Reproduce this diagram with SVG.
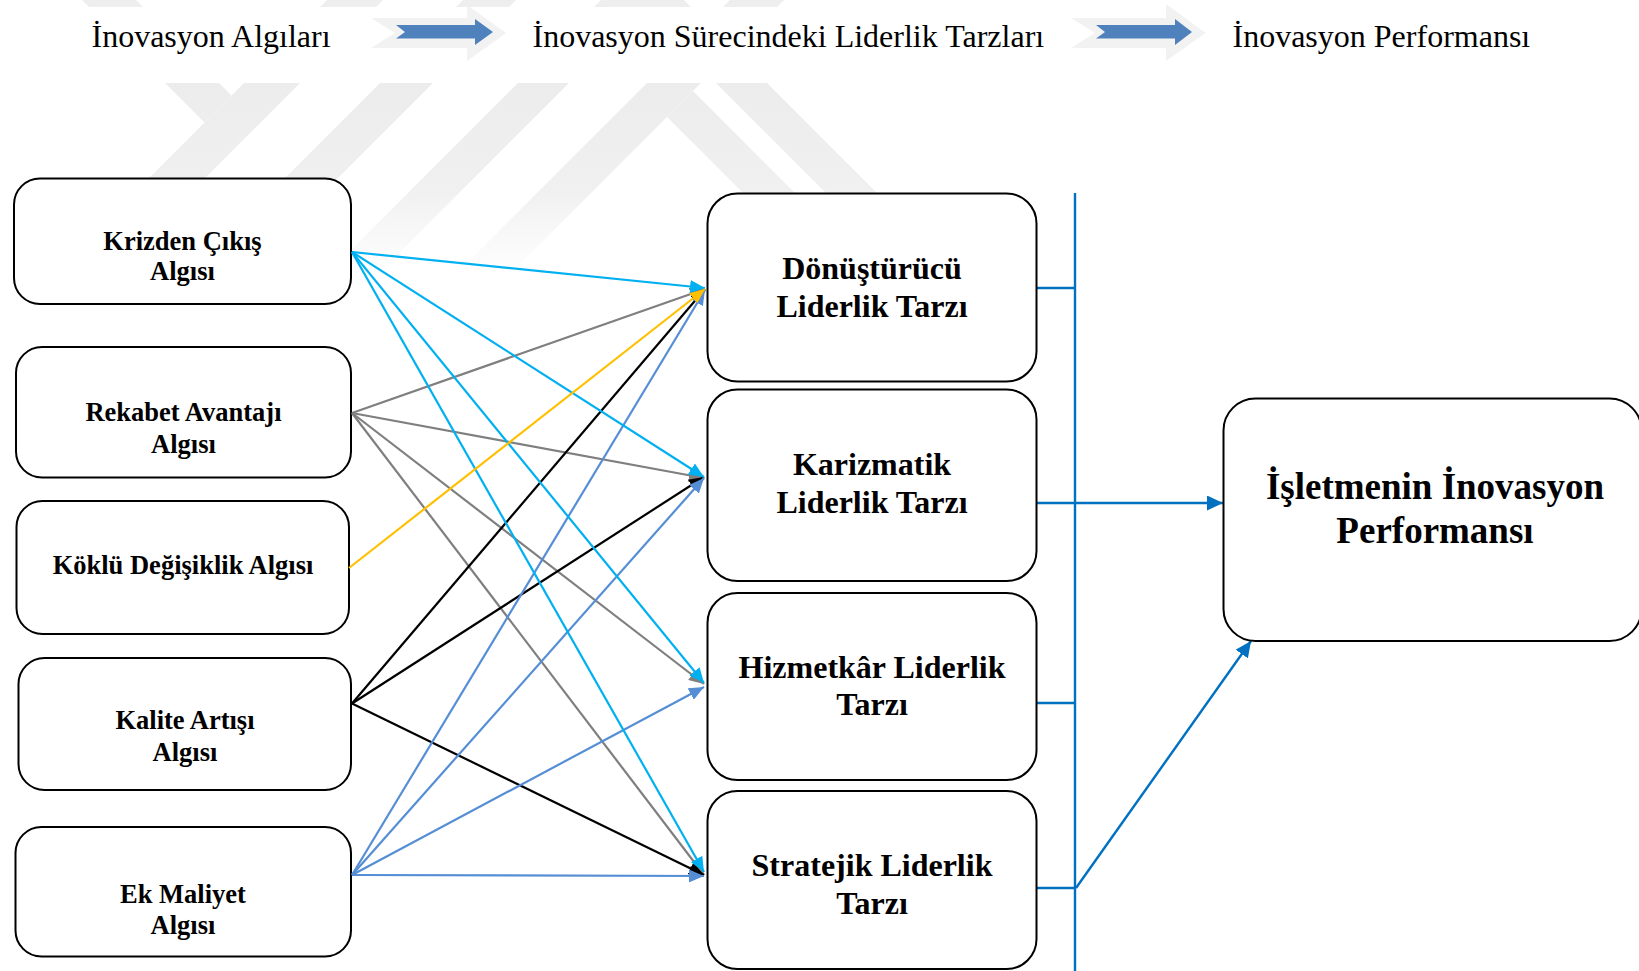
<svg xmlns="http://www.w3.org/2000/svg" xmlns:xlink="http://www.w3.org/1999/xlink" width="1639" height="971" viewBox="0 0 1639 971">
<style>
.box{fill:#fff;stroke:#000;stroke-width:2}
.lt{font-family:"Liberation Serif","Times New Roman",serif;font-weight:bold;font-size:26.5px;text-anchor:middle;fill:#000}
.mt{font-family:"Liberation Serif","Times New Roman",serif;font-weight:bold;font-size:32px;text-anchor:middle;fill:#000}
.pt{font-family:"Liberation Serif","Times New Roman",serif;font-weight:bold;font-size:37px;text-anchor:middle;fill:#000}
.ht{font-family:"Liberation Serif","Times New Roman",serif;font-size:32px;fill:#000}
.c{stroke:#00B0F0;stroke-width:2.2;fill:none;marker-end:url(#mc)}
.g{stroke:#7F7F7F;stroke-width:2.2;fill:none;marker-end:url(#mg)}
.y{stroke:#FFC000;stroke-width:2.2;fill:none;marker-end:url(#my)}
.k{stroke:#000;stroke-width:2.2;fill:none;marker-end:url(#mk)}
.s{stroke:#558ED5;stroke-width:2.2;fill:none;marker-end:url(#ms)}
.b{stroke:#0070C0;stroke-width:2.4;fill:none}
.ba{stroke:#0070C0;stroke-width:2.4;fill:none;marker-end:url(#mb)}
</style>
<defs>
<marker id="mc" markerUnits="userSpaceOnUse" markerWidth="15" markerHeight="13" refX="15" refY="6.5" orient="auto"><path d="M0,0L15,6.5L0,13z" fill="#00B0F0"/></marker>
<marker id="mg" markerUnits="userSpaceOnUse" markerWidth="15" markerHeight="13" refX="15" refY="6.5" orient="auto"><path d="M0,0L15,6.5L0,13z" fill="#7F7F7F"/></marker>
<marker id="my" markerUnits="userSpaceOnUse" markerWidth="15" markerHeight="13" refX="15" refY="6.5" orient="auto"><path d="M0,0L15,6.5L0,13z" fill="#FFC000"/></marker>
<marker id="mk" markerUnits="userSpaceOnUse" markerWidth="15" markerHeight="13" refX="15" refY="6.5" orient="auto"><path d="M0,0L15,6.5L0,13z" fill="#000"/></marker>
<marker id="ms" markerUnits="userSpaceOnUse" markerWidth="15" markerHeight="13" refX="15" refY="6.5" orient="auto"><path d="M0,0L15,6.5L0,13z" fill="#558ED5"/></marker>
<marker id="mb" markerUnits="userSpaceOnUse" markerWidth="16" markerHeight="15" refX="16" refY="7.5" orient="auto"><path d="M0,0L16,7.5L0,15z" fill="#0070C0"/></marker>
<linearGradient id="fade" gradientUnits="userSpaceOnUse" x1="0" y1="83" x2="0" y2="275">
<stop offset="0" stop-color="#ECECEC"/><stop offset="0.55" stop-color="#F0F0F0"/><stop offset="1" stop-color="#FFFFFF"/>
</linearGradient>
<clipPath id="cTop"><rect x="0" y="0" width="1639" height="7"/></clipPath>
<clipPath id="cBot"><rect x="0" y="83" width="1639" height="200"/></clipPath>
<g id="wm">
<polygon points="327,0 383,0 83,300 27,300"/>
<polygon points="463,0 516,0 216,300 163,300"/>
<polygon points="601,0 652,0 352,300 301,300"/>
<polygon points="730,0 784,0 484,300 430,300"/>
<polygon points="82,0 136,0 231.5,95.5 204.5,122.5"/>
<polygon points="693,91 902,300 850,300 667,117"/>
<polygon points="633,0 684,0 984,300 933,300"/>
</g>
</defs>
<rect x="0" y="0" width="1639" height="971" fill="#fff"/>
<g id="watermark">
<use xlink:href="#wm" href="#wm" fill="#EEEEEE" clip-path="url(#cTop)"/>
<use xlink:href="#wm" href="#wm" fill="url(#fade)" clip-path="url(#cBot)"/>
</g>
<g id="header">
<text class="ht" x="91.5" y="47">İnovasyon Algıları</text>
<polygon points="371,18 467,18 467,5 506,33 467,61 467,48 371,48 395,33" fill="#F2F2F2"/>
<polygon points="396,25 475,25 475,19 493,32 475,45 475,38.5 396,38.5 405,32" fill="#4F81BD"/>
<text class="ht" x="532.5" y="47">İnovasyon Sürecindeki Liderlik Tarzları</text>
<polygon points="1071,18 1166,18 1166,4 1205.5,33 1166,61 1166,48 1071,48 1095,33" fill="#F2F2F2"/>
<polygon points="1096,25 1175,25 1175,19 1192,32 1175,45 1175,38.5 1096,38.5 1105,32" fill="#4F81BD"/>
<text class="ht" x="1232.5" y="47">İnovasyon Performansı</text>
</g>
<g id="n-krizden"><rect class="box" x="14" y="178.5" width="337" height="125.5" rx="26"/><text class="lt" x="182.5" y="250">Krizden Çıkış</text><text class="lt" x="182.5" y="279.5">Algısı</text></g>
<g id="n-rekabet"><rect class="box" x="16" y="347" width="335" height="130.5" rx="26"/><text class="lt" x="183.5" y="421">Rekabet Avantajı</text><text class="lt" x="183.5" y="453">Algısı</text></g>
<g id="n-koklu"><rect class="box" x="16.5" y="501" width="332.5" height="133" rx="26"/><text class="lt" x="183" y="573.5">Köklü Değişiklik Algısı</text></g>
<g id="n-kalite"><rect class="box" x="18.5" y="658" width="332.5" height="132" rx="26"/><text class="lt" x="185" y="728.5">Kalite Artışı</text><text class="lt" x="185" y="760.5">Algısı</text></g>
<g id="n-ek"><rect class="box" x="15.5" y="827" width="335.5" height="129.5" rx="26"/><text class="lt" x="183" y="903">Ek Maliyet</text><text class="lt" x="183" y="934">Algısı</text></g>
<g id="connectors">
<line class="g" x1="352" y1="413" x2="705" y2="289"/>
<line class="g" x1="352" y1="413" x2="704" y2="478"/>
<line class="g" x1="352" y1="413" x2="704" y2="684"/>
<line class="g" x1="352" y1="413" x2="704" y2="875"/>
<line class="k" x1="352" y1="703.5" x2="705" y2="289"/>
<line class="k" x1="352" y1="703.5" x2="704" y2="477"/>
<line class="k" x1="352" y1="703.5" x2="704" y2="875"/>
<line class="s" x1="352" y1="875" x2="705" y2="290"/>
<line class="s" x1="352" y1="875" x2="704" y2="478"/>
<line class="s" x1="352" y1="875" x2="704" y2="687"/>
<line class="s" x1="352" y1="875" x2="704" y2="876"/>
<line class="c" x1="352" y1="252" x2="705" y2="288"/>
<line class="c" x1="352" y1="252" x2="704" y2="477"/>
<line class="c" x1="352" y1="252" x2="704" y2="683"/>
<line class="c" x1="352" y1="252" x2="704" y2="872"/>
<line class="y" x1="349" y1="568" x2="705" y2="289"/>
<line class="b" x1="1075" y1="193" x2="1075" y2="971"/>
<line class="b" x1="1037" y1="288" x2="1075" y2="288"/>
<line class="b" x1="1037" y1="703" x2="1075" y2="703"/>
<line class="b" x1="1037" y1="888" x2="1075" y2="888"/>
<line class="ba" x1="1037" y1="503" x2="1223" y2="503"/>
<line class="ba" x1="1076" y1="888" x2="1251" y2="641"/>
</g>
<g id="n-donusturucu"><rect class="box" x="707.5" y="193.5" width="329" height="188" rx="30"/><text class="mt" x="872" y="279">Dönüştürücü</text><text class="mt" x="872" y="316.5">Liderlik Tarzı</text></g>
<g id="n-karizmatik"><rect class="box" x="707.5" y="389.5" width="329" height="191.5" rx="30"/><text class="mt" x="872" y="475">Karizmatik</text><text class="mt" x="872" y="513">Liderlik Tarzı</text></g>
<g id="n-hizmetkar"><rect class="box" x="707.5" y="593" width="329" height="187" rx="30"/><text class="mt" x="872" y="677.5">Hizmetkâr Liderlik</text><text class="mt" x="872" y="715">Tarzı</text></g>
<g id="n-stratejik"><rect class="box" x="707.5" y="791" width="329" height="178" rx="30"/><text class="mt" x="872" y="876">Stratejik Liderlik</text><text class="mt" x="872" y="914">Tarzı</text></g>
<g id="n-performans"><rect class="box" x="1223.5" y="398.5" width="418" height="242.5" rx="32"/><text class="pt" x="1435" y="498.5">İşletmenin İnovasyon</text><text class="pt" x="1435" y="542.5">Performansı</text></g>
</svg>
